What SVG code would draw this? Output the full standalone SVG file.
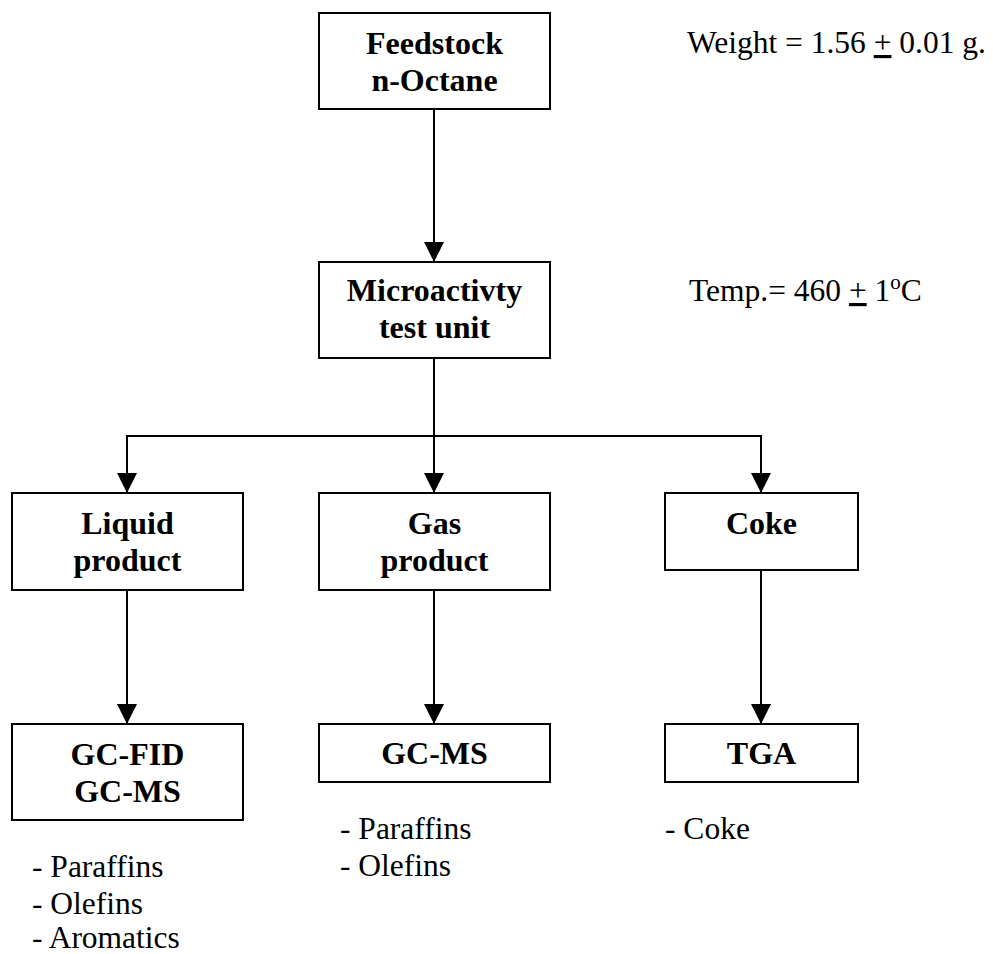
<svg xmlns="http://www.w3.org/2000/svg" width="993" height="954" viewBox="0 0 993 954">
  <style>
    .box { fill: #ffffff; stroke: #000000; stroke-width: 2; }
    .lbl { font-weight: bold; font-size: 32px; fill: #000000; text-anchor: middle; }
    .note { font-size: 31.5px; fill: #000000; }
    .wire { fill: none; stroke: #000000; stroke-width: 2; }
    .arrow { marker-end: url(#head); }
  </style>
  <defs>
    <marker id="head" viewBox="0 0 20 20" markerWidth="20" markerHeight="20" markerUnits="userSpaceOnUse" refX="20" refY="10" orient="auto">
      <path d="M0,0 L20,10 L0,20 z" fill="#000000"/>
    </marker>
  </defs>
  <rect width="993" height="954" fill="#ffffff"/>

  <!-- connectors -->
  <g id="connectors">
    <line class="wire arrow" x1="434" y1="109" x2="434" y2="262"/>
    <line class="wire" x1="434" y1="358" x2="434" y2="436"/>
    <polyline class="wire" points="127,436 761,436"/>
    <line class="wire arrow" x1="127" y1="435" x2="127" y2="493"/>
    <line class="wire arrow" x1="434" y1="436" x2="434" y2="493"/>
    <line class="wire arrow" x1="761" y1="435" x2="761" y2="493"/>
    <line class="wire arrow" x1="127" y1="590" x2="127" y2="724"/>
    <line class="wire arrow" x1="434" y1="590" x2="434" y2="724"/>
    <line class="wire arrow" x1="761" y1="570" x2="761" y2="724"/>
  </g>

  <g font-family="'Times New Roman', 'Liberation Serif', 'DejaVu Serif', serif">
  <!-- nodes -->
  <g id="feedstock">
    <rect class="box" x="319" y="13" width="231" height="96"/>
    <text class="lbl" x="434.5" y="54">Feedstock</text>
    <text class="lbl" x="434.5" y="91">n-Octane</text>
  </g>
  <g id="mat-unit">
    <rect class="box" x="319" y="262" width="231" height="96"/>
    <text class="lbl" x="434.5" y="301">Microactivty</text>
    <text class="lbl" x="434.5" y="338">test unit</text>
  </g>
  <g id="liquid-product">
    <rect class="box" x="12" y="493" width="231" height="97"/>
    <text class="lbl" x="127.5" y="534">Liquid</text>
    <text class="lbl" x="127.5" y="571">product</text>
  </g>
  <g id="gas-product">
    <rect class="box" x="319" y="493" width="231" height="97"/>
    <text class="lbl" x="434.5" y="534">Gas</text>
    <text class="lbl" x="434.5" y="571">product</text>
  </g>
  <g id="coke">
    <rect class="box" x="665" y="493" width="193" height="77"/>
    <text class="lbl" x="761.5" y="534">Coke</text>
  </g>
  <g id="gc-fid-ms">
    <rect class="box" x="12" y="724" width="231" height="96"/>
    <text class="lbl" x="127.5" y="765">GC-FID</text>
    <text class="lbl" x="127.5" y="802">GC-MS</text>
  </g>
  <g id="gc-ms">
    <rect class="box" x="319" y="724" width="231" height="58"/>
    <text class="lbl" x="434.5" y="764">GC-MS</text>
  </g>
  <g id="tga">
    <rect class="box" x="665" y="724" width="193" height="58"/>
    <text class="lbl" x="761.5" y="764">TGA</text>
  </g>

  <!-- conditions -->
  <g id="conditions">
    <text class="note" x="687" y="53">Weight = 1.56 <tspan text-decoration="underline">+</tspan> 0.01 g.</text>
    <text class="note" x="689" y="301">Temp.= 460 <tspan text-decoration="underline">+</tspan> 1<tspan font-size="21" dy="-12">o</tspan><tspan dy="12">C</tspan></text>
  </g>

  <!-- product lists -->
  <g id="lists">
    <text class="note" x="32" y="877">- Paraffins</text>
    <text class="note" x="32" y="914">- Olefins</text>
    <text class="note" x="32" y="948">- Aromatics</text>
    <text class="note" x="340" y="839">- Paraffins</text>
    <text class="note" x="340" y="876">- Olefins</text>
    <text class="note" x="665" y="839">- Coke</text>
  </g>
  </g>
</svg>
